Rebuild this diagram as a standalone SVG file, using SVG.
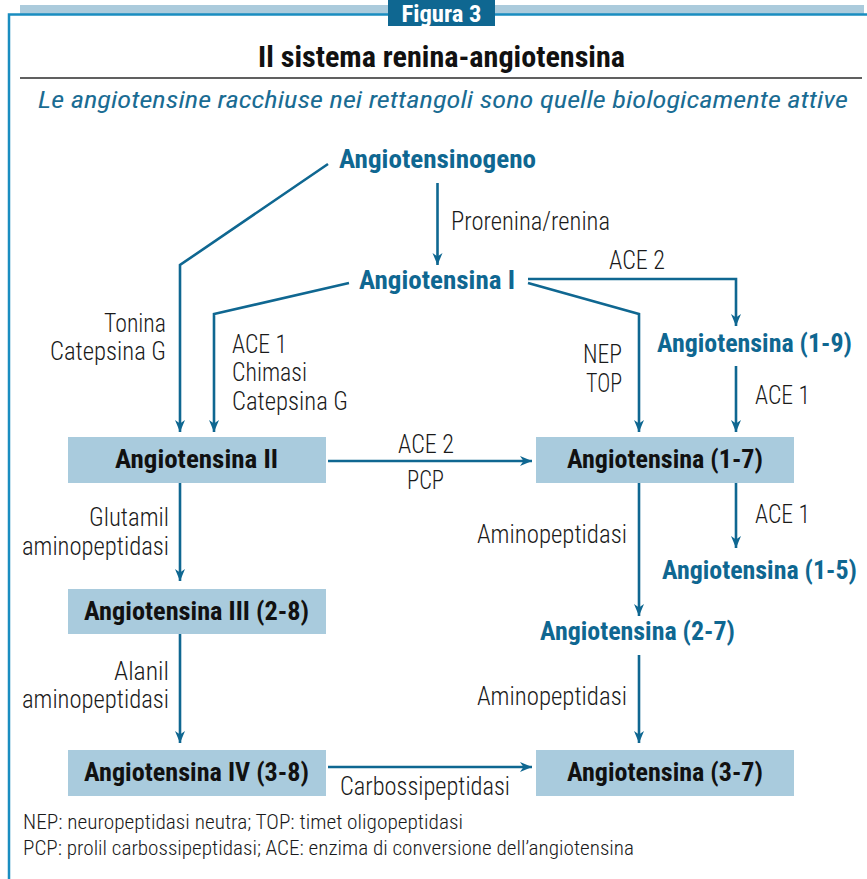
<svg xmlns="http://www.w3.org/2000/svg" width="867" height="879" viewBox="0 0 867 879">
<style>
text{font-family:"Liberation Sans Narrow","Roboto Condensed","Liberation Sans",Arial,sans-serif;}
.lbl{font-size:25px;font-weight:300;fill:#1a1a1a;}
.nb{font-size:26px;font-weight:bold;fill:#0f6791;}
.nk{font-size:26px;font-weight:bold;fill:#111;}
.box{fill:#a9cbdd;}
.con{fill:none;stroke:#0f6791;stroke-width:2.6;marker-end:url(#ah);}
.foot{font-size:21px;font-weight:300;fill:#1a1a1a;}
</style>
<defs>
<marker id="ah" markerUnits="userSpaceOnUse" markerWidth="13" markerHeight="12" refX="12" refY="6" orient="auto">
<path d="M0,1 L12,6 L0,11 L3.5,6 Z" fill="#0f6791"/>
</marker>
</defs>
<rect width="867" height="879" fill="#ffffff"/>
<g id="header">
<rect x="20" y="5" width="844" height="9" fill="#abcbdc"/>
<polyline points="9,879 9,14.5 867,14.5" fill="none" stroke="#1a8dc0" stroke-width="2.5"/>
<rect x="388" y="0" width="107" height="26" fill="#0f6791"/>
<text x="441.5" y="22" text-anchor="middle" font-size="24" font-weight="bold" fill="#ffffff" textLength="80" lengthAdjust="spacingAndGlyphs">Figura 3</text>
<text x="441.5" y="67" text-anchor="middle" font-size="30" font-weight="bold" fill="#111" textLength="367" lengthAdjust="spacingAndGlyphs">Il sistema renina-angiotensina</text>
<line x1="20" y1="78" x2="862" y2="78" stroke="#606060" stroke-width="2"/>
<text x="38" y="108" font-size="24" font-style="italic" fill="#1a6c93" textLength="810" lengthAdjust="spacingAndGlyphs">Le angiotensine racchiuse nei rettangoli sono quelle biologicamente attive</text>
</g>
<g id="connectors">
<polyline class="con" points="328,164 180,265 180,432"/>
<line class="con" x1="437.5" y1="183" x2="437.5" y2="265"/>
<polyline class="con" points="349,283 214,314 214,432"/>
<polyline class="con" points="528,279 736,279 736,326"/>
<polyline class="con" points="528,283 639,314 639,432"/>
<line class="con" x1="736" y1="366" x2="736" y2="432"/>
<line class="con" x1="328" y1="461" x2="532" y2="461"/>
<line class="con" x1="736" y1="483" x2="736" y2="548"/>
<line class="con" x1="639" y1="483" x2="639" y2="616"/>
<line class="con" x1="180" y1="483" x2="180" y2="581"/>
<line class="con" x1="180" y1="634" x2="180" y2="743"/>
<line class="con" x1="639" y1="655" x2="639" y2="743"/>
<line class="con" x1="328" y1="767" x2="532" y2="767"/>
</g>
<g id="edge-labels">
<text class="lbl" x="451" y="230" textLength="159" lengthAdjust="spacingAndGlyphs">Prorenina/renina</text>
<text class="lbl" x="609" y="269" textLength="56" lengthAdjust="spacingAndGlyphs">ACE 2</text>
<text class="lbl" x="583" y="363" textLength="39" lengthAdjust="spacingAndGlyphs">NEP</text>
<text class="lbl" x="586" y="392" textLength="36" lengthAdjust="spacingAndGlyphs">TOP</text>
<text class="lbl" x="755" y="404" textLength="55" lengthAdjust="spacingAndGlyphs">ACE 1</text>
<text class="lbl" x="104" y="332" textLength="62" lengthAdjust="spacingAndGlyphs">Tonina</text>
<text class="lbl" x="50" y="360" textLength="116" lengthAdjust="spacingAndGlyphs">Catepsina G</text>
<text class="lbl" x="232" y="353" textLength="55" lengthAdjust="spacingAndGlyphs">ACE 1</text>
<text class="lbl" x="232" y="381" textLength="75" lengthAdjust="spacingAndGlyphs">Chimasi</text>
<text class="lbl" x="232" y="410" textLength="116" lengthAdjust="spacingAndGlyphs">Catepsina G</text>
<text class="lbl" x="398" y="453" textLength="56" lengthAdjust="spacingAndGlyphs">ACE 2</text>
<text class="lbl" x="407" y="489" textLength="37" lengthAdjust="spacingAndGlyphs">PCP</text>
<text class="lbl" x="89" y="526" textLength="80" lengthAdjust="spacingAndGlyphs">Glutamil</text>
<text class="lbl" x="22" y="555" textLength="147" lengthAdjust="spacingAndGlyphs">aminopeptidasi</text>
<text class="lbl" x="114" y="680" textLength="55" lengthAdjust="spacingAndGlyphs">Alanil</text>
<text class="lbl" x="22" y="708" textLength="147" lengthAdjust="spacingAndGlyphs">aminopeptidasi</text>
<text class="lbl" x="477" y="543" textLength="150" lengthAdjust="spacingAndGlyphs">Aminopeptidasi</text>
<text class="lbl" x="477" y="705" textLength="150" lengthAdjust="spacingAndGlyphs">Aminopeptidasi</text>
<text class="lbl" x="755" y="523" textLength="55" lengthAdjust="spacingAndGlyphs">ACE 1</text>
<text class="lbl" x="340" y="795" textLength="170" lengthAdjust="spacingAndGlyphs">Carbossipeptidasi</text>
</g>
<g id="angiotensinogeno"><text class="nb" x="339" y="168" textLength="197" lengthAdjust="spacingAndGlyphs">Angiotensinogeno</text></g>
<g id="angiotensina-i"><text class="nb" x="359" y="289" textLength="156" lengthAdjust="spacingAndGlyphs">Angiotensina I</text></g>
<g id="angiotensina-1-9"><text class="nb" x="657" y="352" textLength="195" lengthAdjust="spacingAndGlyphs">Angiotensina (1-9)</text></g>
<g id="angiotensina-1-5"><text class="nb" x="662" y="579" textLength="195" lengthAdjust="spacingAndGlyphs">Angiotensina (1-5)</text></g>
<g id="angiotensina-2-7"><text class="nb" x="540" y="640" textLength="195" lengthAdjust="spacingAndGlyphs">Angiotensina (2-7)</text></g>
<g id="angiotensina-ii"><rect class="box" x="68" y="437" width="258" height="46"/><text class="nk" x="115" y="468" textLength="163" lengthAdjust="spacingAndGlyphs">Angiotensina II</text></g>
<g id="angiotensina-1-7"><rect class="box" x="536" y="437" width="258" height="46"/><text class="nk" x="567" y="468" textLength="196" lengthAdjust="spacingAndGlyphs">Angiotensina (1-7)</text></g>
<g id="angiotensina-iii"><rect class="box" x="68" y="589" width="258" height="45"/><text class="nk" x="84" y="620" textLength="225" lengthAdjust="spacingAndGlyphs">Angiotensina III (2-8)</text></g>
<g id="angiotensina-iv"><rect class="box" x="68" y="750" width="258" height="46"/><text class="nk" x="84" y="781" textLength="225" lengthAdjust="spacingAndGlyphs">Angiotensina IV (3-8)</text></g>
<g id="angiotensina-3-7"><rect class="box" x="536" y="750" width="258" height="46"/><text class="nk" x="567" y="781" textLength="196" lengthAdjust="spacingAndGlyphs">Angiotensina (3-7)</text></g>
<g id="footer">
<text class="foot" x="23" y="829" textLength="440" lengthAdjust="spacingAndGlyphs">NEP: neuropeptidasi neutra; TOP: timet oligopeptidasi</text>
<text class="foot" x="23" y="855" textLength="611" lengthAdjust="spacingAndGlyphs">PCP: prolil carbossipeptidasi; ACE: enzima di conversione dell’angiotensina</text>
</g>
</svg>
